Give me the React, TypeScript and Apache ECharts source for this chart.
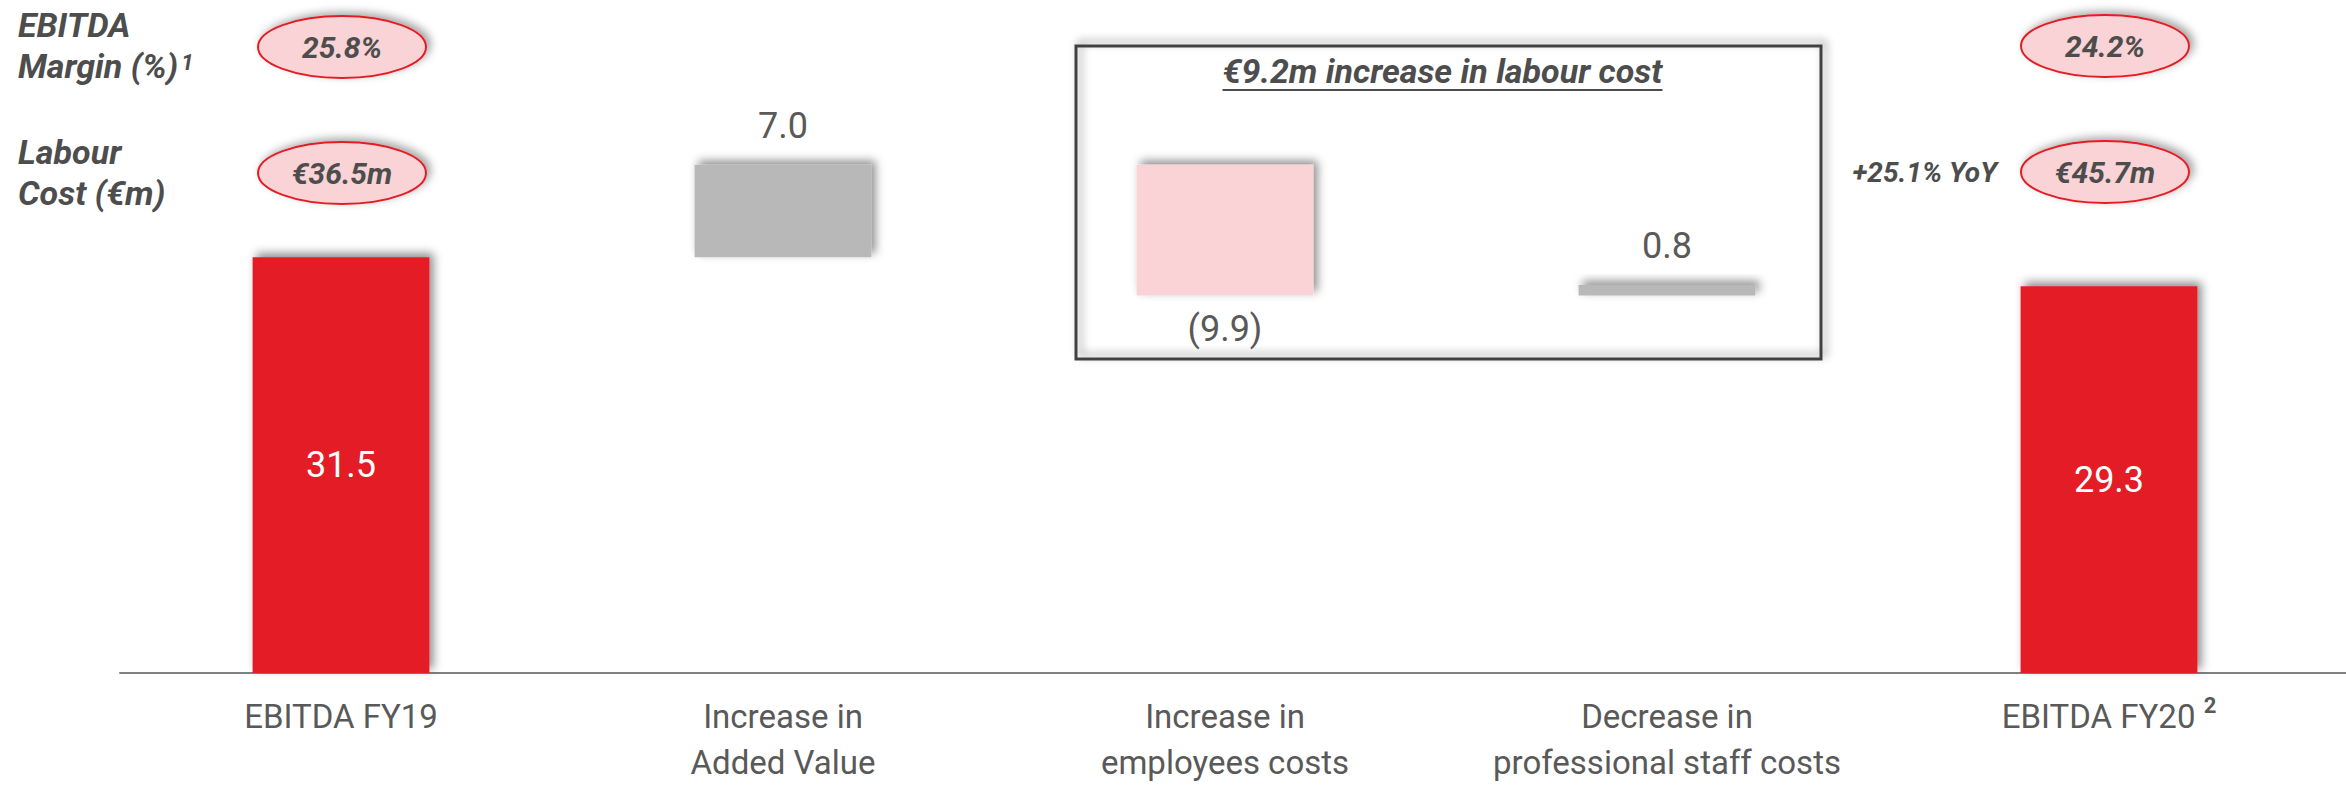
import React, { useEffect, useRef } from "react";
import * as echarts from "echarts";

const categories = [
  "EBITDA FY19",
  "Increase in\nAdded Value",
  "Increase in\nemployees costs",
  "Decrease in\nprofessional staff costs",
  "EBITDA FY20",
];
const values = [31.5, 7.0, -9.9, 0.8, 29.3];
const kinds = ["total", "delta", "delta", "delta", "total"];
const barColors = ["#E41E26", "#B8B8B8", "#F9D3D5", "#B8B8B8", "#E41E26"];
const marginLabels = ["25.8%", "24.2%"];
const labourLabels = ["€36.5m", "€45.7m"];
const yoyLabel = "+25.1% YoY";
const boxTitle = "€9.2m increase in labour cost";
const footnoteCategory = "EBITDA FY20";

const FONT = "Roboto, 'Noto Sans', sans-serif";
const GREY = "#595959";
const DARK = "#4D4D4D";

function measure(text: string, font: string): number {
  const c = document.createElement("canvas").getContext("2d");
  if (!c) return text.length * 15;
  c.font = font;
  return c.measureText(text).width;
}

export default function App() {
  const ref = useRef<HTMLDivElement>(null);

  useEffect(() => {
    if (!ref.current) return;
    const chart = echarts.init(ref.current, null, { renderer: "svg" });

    // waterfall: invisible base + visible bar
    const bases: number[] = [];
    const heights: number[] = [];
    let running = 0;
    values.forEach((v, i) => {
      if (kinds[i] === "total") {
        bases.push(0);
        heights.push(v);
        running = v;
      } else if (v >= 0) {
        bases.push(running);
        heights.push(v);
        running += v;
      } else {
        running += v;
        bases.push(running);
        heights.push(-v);
      }
    });

    const fmt = (v: number) => (v < 0 ? `(${Math.abs(v).toFixed(1)})` : v.toFixed(1));

    const visibleData = heights.map((h, i) => {
      const v = values[i];
      let label: any;
      if (kinds[i] === "total") {
        label = { show: true, position: "inside", color: "#FFFFFF", fontSize: 36, fontFamily: FONT, formatter: fmt(v) };
      } else if (v >= 0) {
        label = { show: true, position: "top", distance: 21, color: GREY, fontSize: 36, fontFamily: FONT, formatter: fmt(v) };
      } else {
        label = { show: true, position: "bottom", distance: 16, color: GREY, fontSize: 36, fontFamily: FONT, formatter: fmt(v) };
      }
      return {
        value: h,
        itemStyle: {
          color: barColors[i],
          shadowBlur: 10,
          shadowColor: "rgba(0,0,0,0.45)",
          shadowOffsetX: 4,
          shadowOffsetY: -4,
        },
        label,
      };
    });

    const boldItalic = (size: number) => ({
      fontSize: size,
      fontWeight: "bold",
      fontStyle: "italic",
      fontFamily: FONT,
      fill: DARK,
    });

    const titleFont = `italic bold 34px Roboto`;
    const titleW = measure(boxTitle, titleFont);
    const marginW = measure("Margin (%)", `italic bold 34px Roboto`);

    const ellipse = (cx: number, cy: number, text: string) => [
      {
        type: "ellipse",
        shape: { cx, cy, rx: 84, ry: 31 },
        style: {
          fill: "#F9D3D5",
          stroke: "#E41E26",
          lineWidth: 2,
          shadowBlur: 8,
          shadowColor: "rgba(0,0,0,0.35)",
          shadowOffsetX: 4,
          shadowOffsetY: -3,
        },
        z: 10,
      },
      {
        type: "text",
        x: cx,
        y: cy,
        style: { ...boldItalic(30), text, align: "center", verticalAlign: "middle" },
        z: 11,
      },
    ];

    const boxX = 1076, boxY = 46, boxW = 745, boxH = 313;
    const titleCx = boxX + boxW / 2 - 6;

    chart.setOption({
      animation: false,
      grid: { left: 120, right: 16, top: 13, bottom: 112, containLabel: false, outerBoundsMode: "none" },
      xAxis: {
        type: "category",
        data: categories,
        axisLine: { show: true, lineStyle: { color: "#808080", width: 2 } },
        axisTick: { show: false },
        axisLabel: {
          color: GREY,
          fontSize: 33,
          fontFamily: FONT,
          lineHeight: 46,
          margin: 20,
          interval: 0,
          hideOverlap: false,
          formatter: (v: string) => (v === footnoteCategory ? `${v} {sup|2}` : v),
          rich: {
            sup: { fontSize: 22, fontWeight: "bold", color: GREY, fontFamily: FONT, padding: [0, 0, 22, 0] },
          },
        },
      },
      yAxis: {
        type: "value",
        min: 0,
        max: 50,
        show: false,
        splitLine: { show: false },
      },
      series: [
        {
          type: "bar",
          stack: "wf",
          data: bases,
          barWidth: "40%",
          itemStyle: { color: "transparent" },
          silent: true,
        },
        {
          type: "bar",
          stack: "wf",
          data: visibleData,
          barWidth: "40%",
        },
      ],
      graphic: [
        // axis extension to the right edge
        { type: "line", shape: { x1: 2328, y1: 673, x2: 2346, y2: 673 }, style: { stroke: "#808080", lineWidth: 2 } },
        // left headings
        { type: "text", x: 18, y: 25, style: { ...boldItalic(34), text: "EBITDA", align: "left", verticalAlign: "middle" } },
        { type: "text", x: 18, y: 66, style: { ...boldItalic(34), text: "Margin (%)", align: "left", verticalAlign: "middle" } },
        { type: "text", x: 18 + marginW + 3, y: 51, style: { ...boldItalic(22), text: "1", align: "left", verticalAlign: "top" } },
        { type: "text", x: 18, y: 152, style: { ...boldItalic(34), text: "Labour", align: "left", verticalAlign: "middle" } },
        { type: "text", x: 18, y: 193, style: { ...boldItalic(34), text: "Cost (€m)", align: "left", verticalAlign: "middle" } },
        // ellipses
        ...ellipse(342, 47, marginLabels[0]),
        ...ellipse(342, 173, labourLabels[0]),
        ...ellipse(2105, 46, marginLabels[1]),
        ...ellipse(2105, 172, labourLabels[1]),
        // YoY
        { type: "text", x: 1997, y: 172, style: { ...boldItalic(28), text: yoyLabel, align: "right", verticalAlign: "middle" } },
        // box
        {
          type: "rect",
          shape: { x: boxX, y: boxY, width: boxW, height: boxH },
          style: {
            fill: "none",
            stroke: "#404040",
            lineWidth: 3,
            shadowBlur: 8,
            shadowColor: "rgba(0,0,0,0.4)",
            shadowOffsetX: 4,
            shadowOffsetY: -4,
          },
          z: 1,
        },
        {
          type: "text",
          x: titleCx,
          y: 71,
          style: { ...boldItalic(34), text: boxTitle, align: "center", verticalAlign: "middle" },
          z: 5,
        },
        {
          type: "line",
          shape: { x1: titleCx - titleW / 2, y1: 90, x2: titleCx + titleW / 2, y2: 90 },
          style: { stroke: DARK, lineWidth: 2 },
          z: 5,
        },
      ],
    });

    return () => chart.dispose();
  }, []);

  return (
    <div
      ref={ref}
      style={{ position: "absolute", left: 0, top: 0, width: 2346, height: 785, background: "#FFFFFF" }}
    />
  );
}
